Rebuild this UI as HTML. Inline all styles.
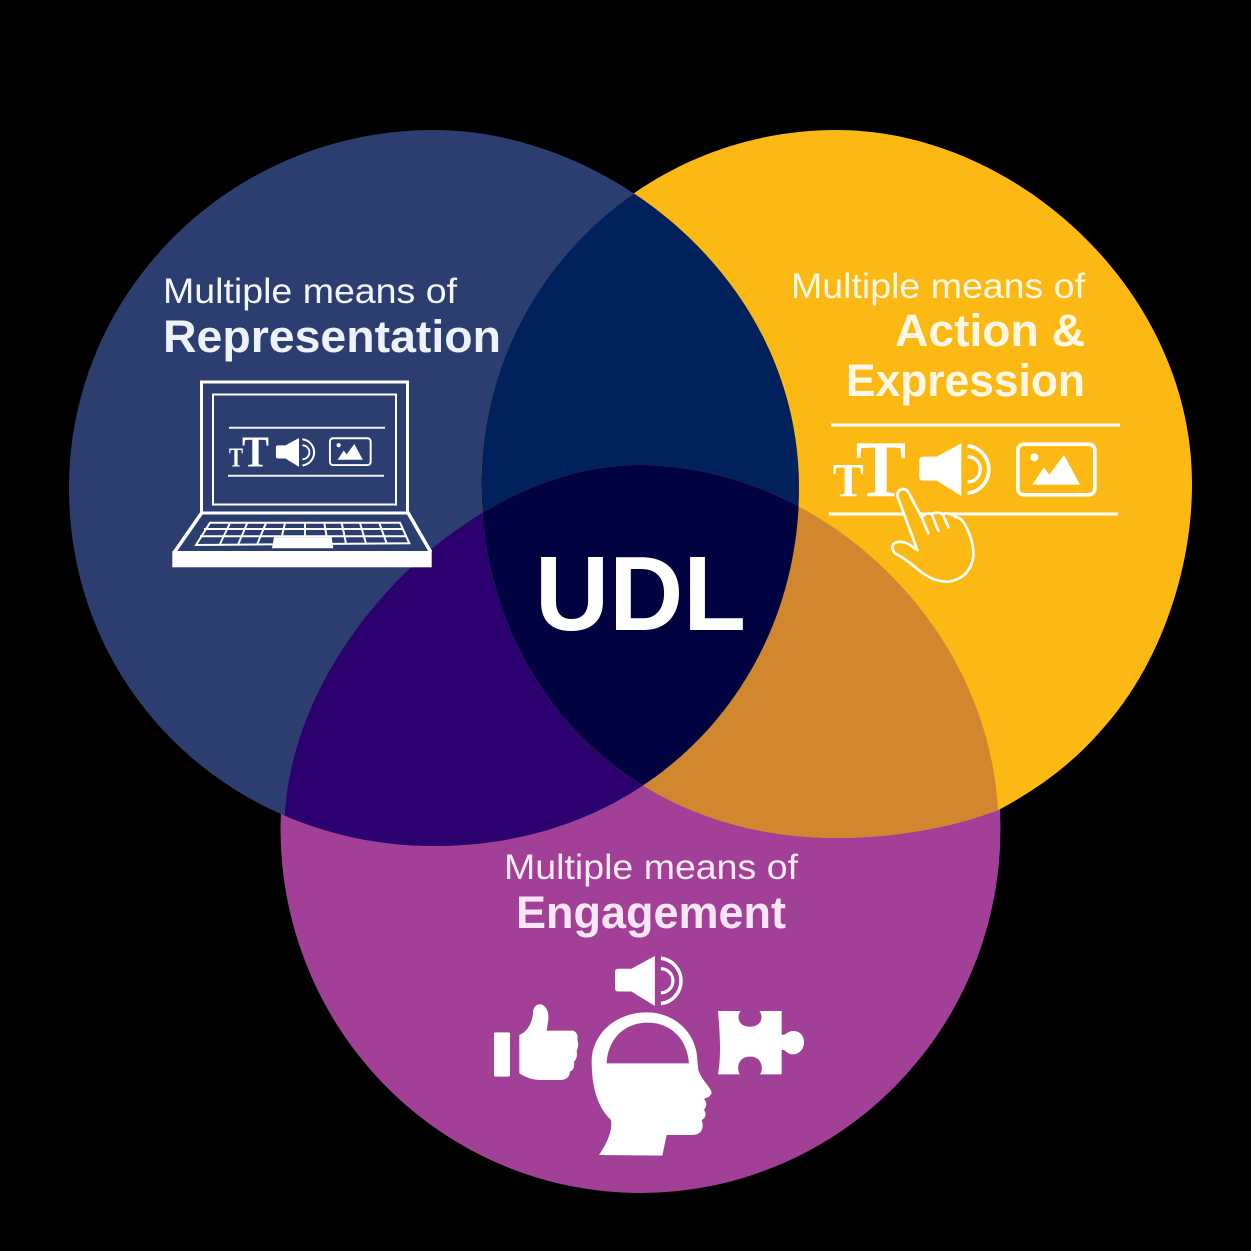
<!DOCTYPE html>
<html lang="en">
<head>
<meta charset="utf-8">
<title>UDL Venn Diagram</title>
<style>
html,body{margin:0;padding:0;background:#000;width:1251px;height:1251px;overflow:hidden}
svg{display:block}
text{font-family:"Liberation Sans",sans-serif}
.t{font-family:"Liberation Serif",serif;font-weight:700;fill:#fff}
.m{font-size:35px;fill:#f4f6fb}
.b{font-size:45px;font-weight:700}
</style>
</head>
<body>
<svg width="1251" height="1251" viewBox="0 0 1251 1251" xmlns="http://www.w3.org/2000/svg">
<defs>
  <path id="blue" d="M434 130C605.6 130 799 277 799 488C799 681 653 846 434 846C233 846 69 692 69 488C69 290.300 232.400 130 434 130Z"/>
  <path id="yellow" d="M836.500 130C1014 130 1192 289 1192 484C1192 575 1157 670 1100 731.700C1068 768 1035 790 1000 809.300C950 829 890 838 836.500 838C623.500 838 481.500 679 481.500 484C481.500 288.500 640.500 130 836.500 130Z"/>
  <path id="purpleTop" d="M638 465C470 465 284.500 650 284.500 829V1200H998.500V829C998.500 629 823 465 638 465Z"/>
  <clipPath id="cb"><use href="#blue"/></clipPath>
  <clipPath id="cy"><use href="#yellow"/></clipPath>
  <g id="spk">
    <path d="M298 150Q298 140 308 140L350 140L424 100V258L350 212H308Q298 212 298 202Z" fill="#fff"/>
    <path d="M443 140A38 38 0 0 1 443 216" fill="none" stroke="#fff" stroke-width="10"/>
    <path d="M443 107A72 72 0 0 1 443 250" fill="none" stroke="#fff" stroke-width="11"/>
  </g>
  <g id="pic">
    <rect x="593.500" y="102.500" width="231" height="152" rx="18" fill="none" stroke="#fff" stroke-width="11"/>
    <circle cx="643" cy="142" r="12" fill="#fff"/>
    <path d="M637 224L672 172L688 194L732 135L780 224Z" fill="#fff"/>
  </g>
</defs>

<rect width="1251" height="1251" fill="#000"/>

<!-- circles -->
<ellipse cx="640.500" cy="829" rx="360" ry="364" fill="#a24097"/>
<use href="#blue" fill="#2c3e70"/>
<use href="#yellow" fill="#fdb913"/>

<!-- overlaps -->
<g clip-path="url(#cb)"><use href="#yellow" fill="#00215b"/></g>
<g clip-path="url(#cb)"><use href="#purpleTop" fill="#2d006f"/></g>
<g clip-path="url(#cy)"><use href="#purpleTop" fill="#d0872d"/></g>
<g clip-path="url(#cb)"><g clip-path="url(#cy)"><use href="#purpleTop" fill="#010340"/></g></g>

<!-- labels -->
<text x="163" y="303" class="m" textLength="294" lengthAdjust="spacingAndGlyphs">Multiple means of</text>
<text x="163" y="352" class="b" fill="#eef2fa" textLength="338" lengthAdjust="spacingAndGlyphs">Representation</text>

<text x="791" y="298" class="m" style="fill:#fff8e6" textLength="294" lengthAdjust="spacingAndGlyphs">Multiple means of</text>
<text x="895" y="346" class="b" fill="#fff8e6" textLength="190" lengthAdjust="spacingAndGlyphs">Action &amp;</text>
<text x="846" y="396" class="b" fill="#fff8e6" textLength="239" lengthAdjust="spacingAndGlyphs">Expression</text>

<text x="504" y="879" class="m" style="fill:#f8eaf6" textLength="294" lengthAdjust="spacingAndGlyphs">Multiple means of</text>
<text x="516" y="928" class="b" fill="#f8e6f5" textLength="270" lengthAdjust="spacingAndGlyphs">Engagement</text>

<text x="535" y="630" font-size="106" font-weight="700" fill="#fff" textLength="211" lengthAdjust="spacingAndGlyphs">UDL</text>

<!-- laptop -->
<g fill="none" stroke="#fff">
  <rect x="201.500" y="382" width="206" height="131" stroke-width="3"/>
  <rect x="213" y="394.500" width="183" height="110" stroke-width="2"/>
  <path d="M229 427.700H385M228 475.700H384" stroke="#eef2fa" stroke-width="2"/>
  <path d="M203 511L174.500 552M407 511L430.700 552" stroke-width="3.500"/>
  <path d="M210 522.700H400L409.300 543.300L196 545Z" stroke-width="2"/>
  <path d="M204 529H403M200 536.300H406.500" stroke-width="2"/>
  <path d="M230 523L220 544M247.300 523L238.300 544M266 523L257.300 544M285 523L281.700 537M305 523V537M324.300 523L326.700 537M341.700 523L346 543.500M360 523L366 543.500M379.300 523L386.700 543.500" stroke-width="2"/>
</g>
<path d="M274 537.300H331.700L333.300 548.300H272Z" fill="#fff"/>
<rect x="172.300" y="551" width="259.400" height="16.300" fill="#fff"/>
<text class="t" x="229" y="466.300" font-size="27" textLength="14" lengthAdjust="spacingAndGlyphs">T</text>
<text class="t" x="242" y="466.500" font-size="44" textLength="27" lengthAdjust="spacingAndGlyphs">T</text>
<use href="#spk" transform="translate(221.400 419.700) scale(.183)"/>
<use href="#pic" transform="translate(225.300 420.200) scale(.1763)"/>

<!-- action & expression icons -->
<path d="M831 425H1120M829 514H1118" stroke="#fff" stroke-width="3" fill="none"/>
<text class="t" x="832.700" y="496.500" font-size="48" textLength="31" lengthAdjust="spacingAndGlyphs">T</text>
<text class="t" x="855.700" y="496" font-size="81" textLength="50.300" lengthAdjust="spacingAndGlyphs">T</text>
<use href="#spk" transform="translate(820 410) scale(.3333)"/>
<use href="#pic" transform="translate(820 410) scale(.3333)"/>
<g transform="translate(820 410) scale(.3333)">
  <path d="M232 258Q232 238 250 237Q262 238 268 252L305 322Q318 306 335 312Q350 304 368 312Q388 306 408 322Q425 322 438 350Q462 395 460 440Q450 505 385 515Q335 516 290 475Q255 445 225 430Q212 415 220 402Q235 390 262 400L292 420Z" fill="#fdb913" stroke="#fff" stroke-width="8" stroke-linejoin="round"/>
  <path d="M305 322L325 370M335 312L355 362M368 312L385 352" fill="none" stroke="#fff" stroke-width="8" stroke-linecap="round"/>
</g>

<!-- engagement icons -->
<use href="#spk" transform="translate(520.700 924.400) scale(.3165)"/>
<g transform="translate(480 945) scale(.33333)" fill="#fff">
  <rect x="42" y="262" width="48" height="133" rx="5"/>
  <path d="M118 270L132 262Q158 240 160 195Q165 175 185 178Q208 190 205 225L200 257L280 257Q296 265 292 285Q298 300 290 318Q294 340 282 350Q285 375 270 380Q268 405 240 405L180 405Q150 405 118 385Z"/>
  <path fill-rule="evenodd" d="M500 202C585 202 650 265 652 345L655 375C665 405 690 425 695 442C693 455 680 458 672 462C680 470 682 482 672 495C680 505 678 518 665 525C672 545 668 568 640 570L560 570L547 632L357 630C380 595 398 560 393 525C355 490 335 430 335 350C335 265 410 202 500 202ZM380 355H627C622 285 575 233 503 233C430 233 383 285 380 355Z"/>
  <path d="M714 198H782C770 210 772 245 810 245C848 245 850 210 838 198H905V268C915 275 920 258 940 258C960 258 972 272 972 292C972 312 958 328 938 328C920 328 915 310 905 315V388H840C850 378 850 335 810 335C770 335 770 378 780 388H714C722 340 722 290 714 198Z"/>
</g>
</svg>
</body>
</html>
